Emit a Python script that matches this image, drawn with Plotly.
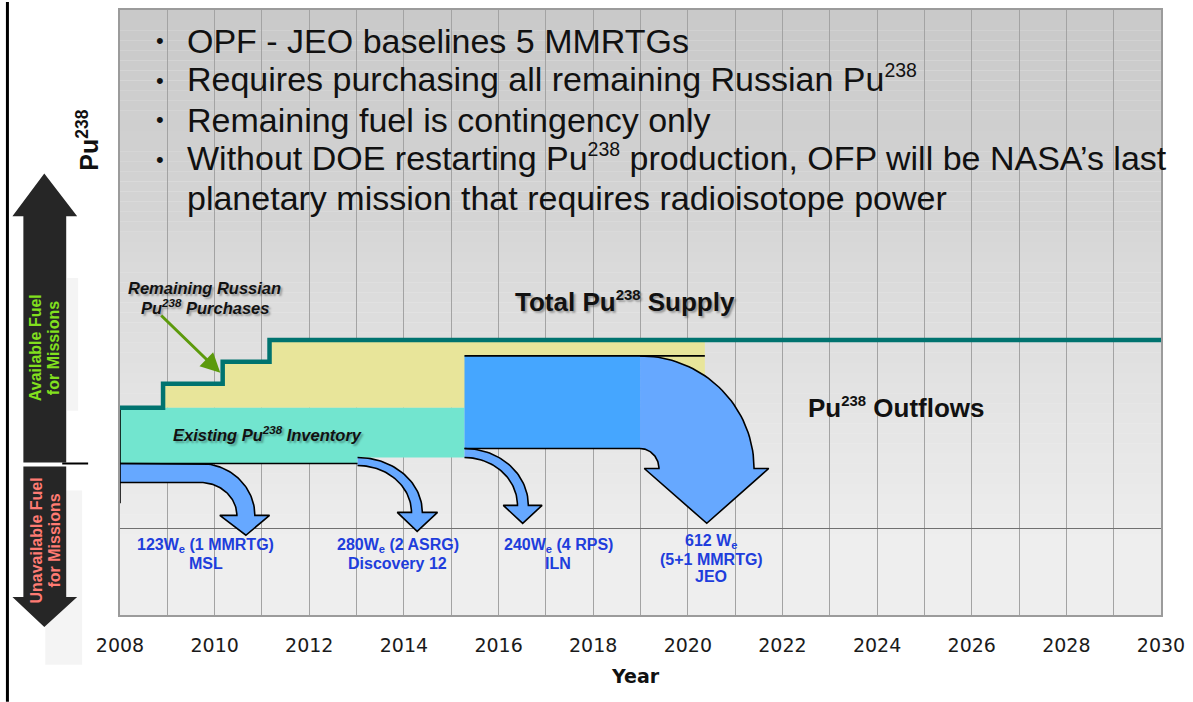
import numpy as np
import plotly.graph_objects as go

# ---------------- data ----------------
# x = year, y = relative Pu-238 amount (0 = outflow baseline line)
tick_years = list(range(2008, 2031, 2))
x_range = [2008, 2030]
y_range = [-17.4, 104.0]

supply_years = [2008.0, 2008.91, 2010.17, 2011.16, 2030.0]   # Russian purchase steps
supply_levels = [24.2, 29.0, 33.4, 37.8, 37.8]
purchase_end_year = 2020.36

inventory_x = [2008.0, 2015.28, 2015.28, 2013.02, 2013.02, 2008.0]
inventory_y = [24.2, 24.2, 14.2, 14.2, 13.0, 13.0]

jeo_block_x = [2015.28, 2018.99]
jeo_block_y = [16.0, 34.6]

# outflow arrows: start, turn, band top/bottom, arc ends (outer/inner), head base, head edges, tip
arrow_names = ["MSL", "Discovery 12", "ILN", "JEO"]
arrow_x0 = [2008.0, 2013.02, 2015.28, 2018.99]
arrow_turn = [2009.69, 2013.02, 2015.28, 2018.99]
arrow_top = [13.0, 14.2, 16.0, 34.6]
arrow_bot = [9.2, 12.6, 14.2, 16.0]
arrow_out = [2010.85, 2014.39, 2016.63, 2021.40]
arrow_in = [2010.47, 2014.16, 2016.40, 2019.39]
arrow_head_y = [2.6, 3.2, 4.6, 12.0]
arrow_head_l = [2010.11, 2013.86, 2016.10, 2019.08]
arrow_head_r = [2011.16, 2014.71, 2016.92, 2021.71]
arrow_tip_x = [2010.66, 2014.28, 2016.51, 2020.40]
arrow_tip_y = [-1.4, -0.6, 1.0, 1.0]


def SUP(s):
    return f"<sup><span style='font-size:82%'>{s}</span></sup>"


mission_x = [2009.81, 2013.87, 2017.26, 2020.50]
mission_lines = [["123W<sub>e</sub> (1 MMRTG)", "MSL"],
                 ["280W<sub>e</sub> (2 ASRG)", "Discovery 12"],
                 ["240W<sub>e</sub> (4 RPS)", "ILN"],
                 ["612 W<sub>e</sub>", "(5+1 MMRTG)", "JEO"]]
mission_y = [[-3.4, -7.0], [-3.4, -7.0], [-3.4, -7.0], [-2.6, -6.2, -9.6]]

bullet_lines = ["OPF - JEO baselines 5 MMRTGs",
                "Requires purchasing all remaining Russian Pu" + SUP("238"),
                "Remaining fuel is contingency only",
                "Without DOE restarting Pu" + SUP("238") + " production, OFP will be NASA\u2019s last",
                "planetary mission that requires radioisotope power"]
bullet_marks = [True, True, True, True, False]
bullet_y = [97.2, 89.2, 81.4, 73.4, 65.6]

# ---------------- style ----------------
ARIAL = "Liberation Sans, Arial, sans-serif"
DEJAVU = "DejaVu Sans, Verdana, sans-serif"
TEAL = "#00736F"
YELLOW = "#E8E59A"
AQUA = "#72E5CF"
BLOCK = "#45A6FF"
ARROW = "#66A8FF"
BLUE_TXT = "#203DDC"
SHADOW = "2px 2px 2px rgba(0,0,0,0.30)"

W, H = 1193, 702
ML, MR, MT, MB = 120, 28, 8, 87
PW, PH = W - ML - MR, H - MT - MB


def px(x):
    return (x - ML) / PW


def py(y):
    return (H - MB - y) / PH


fig = go.Figure()

# purchased fuel (yellow) under the supply step line
yx, yy = [supply_years[1]], [supply_levels[0]]
for i in range(1, len(supply_years) - 1):
    yx += [supply_years[i], supply_years[i + 1] if i + 1 < len(supply_years) - 1 else purchase_end_year]
    yy += [supply_levels[i], supply_levels[i]]
yx += [purchase_end_year]
yy += [supply_levels[0]]
fig.add_trace(go.Scatter(x=yx, y=yy, fill="toself", fillcolor=YELLOW, mode="lines",
                         line=dict(width=0), hoverinfo="skip", showlegend=False))

# existing inventory
fig.add_trace(go.Scatter(x=inventory_x, y=inventory_y, fill="toself", fillcolor=AQUA, mode="lines",
                         line=dict(width=0), hoverinfo="skip", showlegend=False))

# JEO block
bx = [jeo_block_x[0], jeo_block_x[1], jeo_block_x[1], jeo_block_x[0]]
by = [jeo_block_y[0], jeo_block_y[0], jeo_block_y[1], jeo_block_y[1]]
fig.add_trace(go.Scatter(x=bx, y=by, fill="toself", fillcolor=BLOCK, mode="lines",
                         line=dict(width=0), hoverinfo="skip", showlegend=False))


def arrow_points(i):
    t = np.linspace(0, np.pi / 2, 40)
    xt, yh = arrow_turn[i], arrow_head_y[i]
    xs = [arrow_x0[i], xt]
    ys = [arrow_top[i], arrow_top[i]]
    xs += list(xt + (arrow_out[i] - xt) * np.sin(t))
    ys += list(yh + (arrow_top[i] - yh) * np.cos(t))
    xs += [arrow_head_r[i], arrow_tip_x[i], arrow_head_l[i], arrow_in[i]]
    ys += [yh, arrow_tip_y[i], yh, yh]
    xs += list(xt + (arrow_in[i] - xt) * np.sin(t[::-1]))
    ys += list(yh + (arrow_bot[i] - yh) * np.cos(t[::-1]))
    xs += [arrow_x0[i]]
    ys += [arrow_bot[i]]
    return xs, ys


for i in range(len(arrow_names)):
    xs, ys = arrow_points(i)
    fig.add_trace(go.Scatter(x=xs, y=ys, fill="toself", fillcolor=ARROW, mode="lines",
                             line=dict(width=0), hoverinfo="skip", showlegend=False))
    fig.add_trace(go.Scatter(x=xs, y=ys, mode="lines", line=dict(color="black", width=1.6),
                             hoverinfo="skip", showlegend=False))

# outline lines
outline = [
    ([inventory_x[0], inventory_x[3]], [inventory_y[4], inventory_y[4]]),
    ([jeo_block_x[0], purchase_end_year], [jeo_block_y[1], jeo_block_y[1]]),
    ([jeo_block_x[0], jeo_block_x[1]], [jeo_block_y[0], jeo_block_y[0]]),
    ([inventory_x[0], inventory_x[0]], [inventory_y[0], 5.0]),
]
for lx, ly in outline:
    fig.add_trace(go.Scatter(x=lx, y=ly, mode="lines", line=dict(color="black", width=1.6),
                             hoverinfo="skip", showlegend=False))

# total supply step line
fig.add_trace(go.Scatter(x=supply_years, y=supply_levels, mode="lines", line_shape="hv",
                         line=dict(color=TEAL, width=4.5), hoverinfo="skip", showlegend=False))

# ---------------- background gradient ----------------
shapes = []
n = 60
top_px, bot_px = MT, H - MB
for k in range(n):
    y0p = top_px + (bot_px - top_px) * k / n
    y1p = top_px + (bot_px - top_px) * (k + 1) / n
    m = (y0p + y1p) / 2
    if m < 230:
        g = 201 + (m - top_px) / (230 - top_px) * 12
    elif m < 530:
        g = 215 + (m - 230) / 300 * 22
    else:
        g = 238
    g = int(round(g))
    shapes.append(dict(type="rect", xref="paper", yref="paper", x0=0, x1=1,
                       y0=py(y1p), y1=py(y0p), fillcolor=f"rgb({g},{g},{g})",
                       line=dict(width=0), layer="below"))

# left decorations
shapes.append(dict(type="line", xref="paper", yref="paper", x0=px(7), x1=px(7),
                   y0=py(H), y1=py(0), line=dict(color="black", width=3)))
for (a, b, c, d) in [(67, 277, 78, 410), (45, 490, 82, 665)]:
    shapes.append(dict(type="rect", xref="paper", yref="paper", x0=px(a), x1=px(c),
                       y0=py(d), y1=py(b), fillcolor="#f4f4f4", line=dict(width=0)))
up = [(23, 462), (23, 215), (12, 215), (44, 172), (77, 215), (66, 215), (66, 462)]
down = [(23, 466), (66, 466), (66, 597), (77, 597), (44, 627), (12, 597), (23, 597)]
for poly in (up, down):
    path = "M " + " L ".join(f"{px(a):.5f},{py(b):.5f}" for a, b in poly) + " Z"
    shapes.append(dict(type="path", xref="paper", yref="paper", path=path,
                       fillcolor="#262626", line=dict(width=0)))
shapes.append(dict(type="line", xref="paper", yref="paper", x0=px(62), x1=px(88),
                   y0=py(463), y1=py(463), line=dict(color="black", width=2)))

# ---------------- annotations ----------------
ann = []
for txt, mark, yv in zip(bullet_lines, bullet_marks, bullet_y):
    shift = 3 + (2 if "<sup>" in txt else 0)
    if mark:
        ann.append(dict(x=2008.84, y=yv, xref="x", yref="y", text="\u2022", showarrow=False,
                        font=dict(family=ARIAL, size=22, color="#111111"),
                        xanchor="center", yanchor="middle", yshift=3))
    ann.append(dict(x=2009.38, y=yv, xref="x", yref="y", text=txt, showarrow=False,
                    xanchor="left", yanchor="middle", yshift=shift,
                    font=dict(family=ARIAL, size=34, color="#111111")))

ann.append(dict(x=2018.67, y=45.2, xref="x", yref="y", text="Total Pu" + SUP("238") + " Supply",
                showarrow=False, xanchor="center", yanchor="middle", yshift=2,
                font=dict(family=ARIAL, size=26, color="#111111", weight="bold", shadow=SHADOW)))
ann.append(dict(x=2024.42, y=23.8, xref="x", yref="y", text="Pu" + SUP("238") + " Outflows",
                showarrow=False, xanchor="center", yanchor="middle", yshift=2,
                font=dict(family=ARIAL, size=26, color="#111111", weight="bold")))
for txt, yv in [("Remaining Russian", 48.2), ("Pu<sup>238</sup> Purchases", 44.4)]:
    ann.append(dict(x=2009.79, y=yv, xref="x", yref="y", text=txt, showarrow=False,
                    xanchor="center", yanchor="middle",
                    font=dict(family=ARIAL, size=16.5, color="#111111", weight="bold",
                              style="italic", shadow=SHADOW)))
ann.append(dict(x=2011.12, y=19.0, xref="x", yref="y", text="Existing Pu<sup>238</sup> Inventory",
                showarrow=False, xanchor="center", yanchor="middle",
                font=dict(family=ARIAL, size=16.5, color="#111111", weight="bold",
                          style="italic", shadow=SHADOW)))
# green pointer arrow
ann.append(dict(x=2010.12, y=31.2, ax=2008.84, ay=43.0, xref="x", yref="y", axref="x", ayref="y",
                text="", showarrow=True, arrowhead=2, arrowsize=1.3, arrowwidth=3,
                arrowcolor="#5C9A0C", standoff=0))

for xm, lines, ys in zip(mission_x, mission_lines, mission_y):
    for t, yv in zip(lines, ys):
        ann.append(dict(x=xm, y=yv, xref="x", yref="y", text=t, showarrow=False,
                        xanchor="center", yanchor="middle",
                        font=dict(family=ARIAL, size=16, color=BLUE_TXT, weight="bold")))

# left side labels
for t, xp, yp, col in [("Available Fuel", 36, 347, "#82E01E"), ("for Missions", 54, 347, "#82E01E"),
                       ("Unavailable Fuel", 36, 540, "#FF7B73"), ("for Missions", 54, 540, "#FF7B73")]:
    ann.append(dict(x=px(xp), y=py(yp), xref="paper", yref="paper", text=t, showarrow=False,
                    xanchor="center", yanchor="middle", textangle=-90,
                    font=dict(family=ARIAL, size=16, color=col, weight="bold")))
ann.append(dict(x=px(87), y=py(139), xref="paper", yref="paper", text="Pu<sup>238</sup>",
                showarrow=False, textangle=-90, xanchor="center", yanchor="middle",
                font=dict(family=ARIAL, size=25, color="#111111", weight="bold")))
ann.append(dict(x=px(637), y=py(676), xref="paper", yref="paper", text="Year", showarrow=False,
                xanchor="center", yanchor="middle",
                font=dict(family=DEJAVU, size=19, color="#111111", weight="bold")))

fig.update_layout(
    width=W, height=H,
    margin=dict(l=ML, r=MR, t=MT, b=MB),
    paper_bgcolor="white", plot_bgcolor="#eeeeee",
    shapes=shapes, annotations=ann, showlegend=False,
    xaxis=dict(range=x_range, tickvals=tick_years, ticktext=[str(v) for v in tick_years],
               showgrid=True, gridcolor="#a3a3a3", gridwidth=1,
               minor=dict(dtick=1, tick0=2008, showgrid=True, gridcolor="#a3a3a3", gridwidth=1),
               ticks="outside", ticklen=12, tickcolor="rgba(0,0,0,0)",
               tickfont=dict(family=DEJAVU, size=19, color="#1a1a1a"),
               showline=True, mirror=True, linecolor="#9b9b9b", linewidth=1.5,
               zeroline=False, fixedrange=True),
    yaxis=dict(range=y_range, showgrid=False, showticklabels=False, ticks="",
               zeroline=True, zerolinecolor="#707070", zerolinewidth=1,
               showline=True, mirror=True, linecolor="#9b9b9b", linewidth=1.5, fixedrange=True),
)

fig.write_html("out.html", config={"displayModeBar": False},
               post_script="document.body.style.margin='0px';document.body.style.overflow='hidden';")
